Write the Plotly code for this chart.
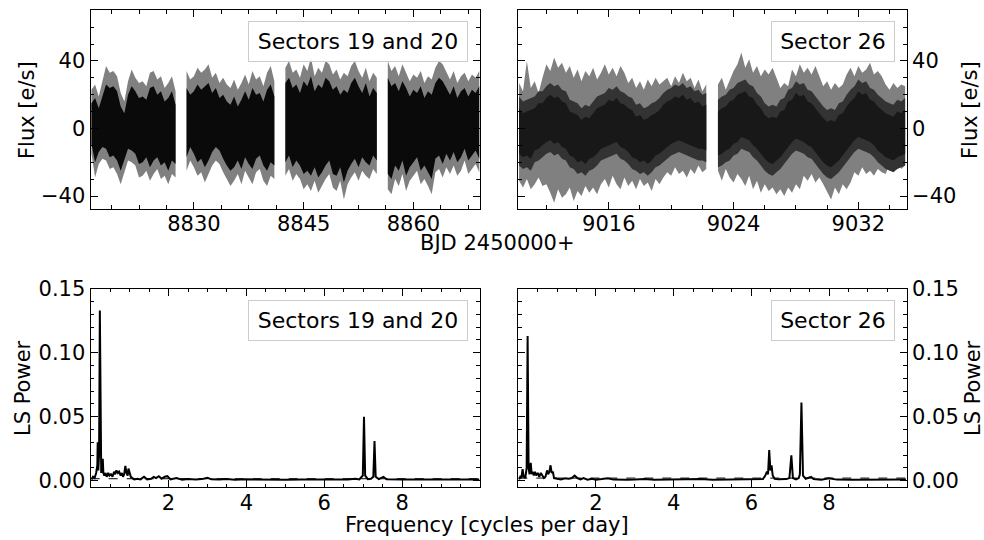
import plotly.graph_objects as go
import numpy as np

# ---------------- Light curve: Sectors 19 and 20 (envelopes sampled every 0.5 d) ----------------
s1920_step = 0.5
s1920_starts = [8816.0, 8829.0, 8842.5, 8856.5]

grey_hi_a = [23, 26, 19, 28, 37, 33, 34, 31, 21, 16, 28, 35, 30, 27, 28, 25, 33, 34, 29, 31, 24, 27, 31, 22]
grey_lo_a = [-15, -29, -21, -18, -19, -24, -23, -27, -33, -26, -19, -20, -22, -29, -28, -25, -31, -27, -24, -30, -28, -33, -27, -29]
core_hi_a = [15, 18, 12, 19, 26, 24, 25, 22, 13, 9, 20, 25, 22, 18, 19, 17, 24, 25, 20, 22, 16, 18, 22, 14]
core_lo_a = [-9, -20, -14, -11, -12, -17, -16, -19, -25, -18, -12, -13, -15, -21, -20, -17, -23, -19, -17, -22, -20, -25, -19, -21]

grey_hi_b = [34, 29, 31, 36, 33, 35, 38, 30, 33, 27, 30, 26, 24, 29, 23, 27, 32, 26, 34, 29, 31, 25, 33, 37, 28]
grey_lo_b = [-25, -19, -23, -28, -26, -32, -27, -22, -19, -21, -26, -30, -34, -31, -27, -33, -25, -29, -33, -26, -24, -31, -34, -28, -30]
core_hi_b = [24, 20, 22, 26, 23, 25, 27, 21, 24, 18, 20, 16, 14, 19, 13, 17, 22, 17, 24, 20, 21, 16, 23, 26, 19]
core_lo_b = [-17, -11, -15, -20, -18, -23, -19, -14, -11, -13, -18, -22, -25, -23, -19, -24, -17, -21, -24, -18, -16, -22, -25, -20, -22]

grey_hi_c = [36, 40, 33, 35, 30, 38, 34, 42, 31, 36, 33, 40, 38, 32, 35, 29, 33, 31, 37, 40, 34, 30, 36, 28, 33, 30]
grey_lo_c = [-28, -24, -31, -27, -30, -36, -33, -37, -31, -38, -34, -30, -27, -35, -37, -31, -42, -33, -29, -26, -31, -25, -28, -30, -24, -27]
core_hi_c = [27, 30, 24, 26, 21, 28, 25, 31, 22, 26, 24, 30, 28, 23, 25, 20, 23, 21, 27, 30, 25, 21, 27, 19, 24, 21]
core_lo_c = [-20, -16, -23, -19, -22, -27, -25, -28, -23, -29, -26, -22, -19, -27, -28, -23, -32, -25, -21, -18, -23, -17, -20, -22, -16, -19]

grey_hi_d = [40, 34, 37, 31, 38, 33, 28, 32, 30, 34, 27, 31, 29, 36, 40, 38, 33, 29, 34, 27, 31, 33, 28, 32, 30, 34]
grey_lo_d = [-36, -39, -30, -34, -27, -37, -31, -28, -25, -33, -30, -34, -39, -26, -24, -29, -23, -27, -22, -28, -25, -19, -27, -24, -21, -26]
core_hi_d = [30, 25, 27, 22, 28, 24, 19, 23, 21, 25, 18, 22, 20, 27, 30, 28, 24, 20, 25, 18, 22, 24, 19, 23, 21, 25]
core_lo_d = [-27, -30, -22, -25, -19, -28, -23, -20, -17, -25, -22, -26, -30, -18, -16, -21, -15, -19, -14, -20, -17, -12, -19, -16, -13, -18]

# ---------------- Light curve: Sector 26 (envelopes sampled every 0.25 d) ----------------
s26_step = 0.25
s26_starts = [9010.25, 9023.0]

grey_hi_e = [27, 22, 40, 24, 28, 21, 30, 38, 34, 42, 36, 39, 33, 37, 30, 35, 28, 34, 31, 36, 29, 33,
             38, 32, 36, 31, 37, 33, 27, 30, 24, 28, 23, 29, 25, 30, 26, 28, 30, 25, 31, 27, 33, 28, 30, 24, 29, 22, 26]
grey_lo_e = [-31, -35, -30, -36, -33, -29, -34, -33, -38, -44, -36, -41, -39, -35, -43, -37, -40, -34, -38, -35, -39, -33,
             -30, -35, -28, -33, -36, -29, -34, -31, -36, -30, -34, -32, -37, -30, -33, -29, -26, -28, -23, -27, -25, -29, -24, -27, -22, -26, -24]
core_hi_e = [12, 9, 10, 11, 12, 15, 15, 18, 20, 18, 19, 16, 15, 10, 9, 8, 5, 7, 6, 9, 12, 13, 14, 17, 16, 18, 15, 14,
             12, 11, 7, 8, 5, 6, 8, 9, 11, 14, 16, 17, 19, 18, 20, 17, 18, 15, 16, 13, 14]
core_lo_e = [-15, -17, -16, -18, -13, -12, -10, -8, -7, -9, -8, -11, -12, -16, -17, -20, -19, -21, -18, -17, -15, -12,
             -11, -10, -9, -8, -11, -12, -14, -17, -18, -20, -19, -21, -19, -16, -15, -13, -11, -9, -8, -7, -8, -9, -10, -11, -12, -12, -13]

grey_hi_f = [26, 30, 23, 29, 34, 38, 45, 36, 41, 33, 37, 31, 35, 32, 36, 30, 24, 27, 25, 35, 31, 38, 33, 36, 32, 37, 31,
             25, 28, 23, 27, 24, 26, 32, 36, 31, 37, 33, 35, 39, 32, 34, 31, 26, 23, 27, 24, 26, 25]
grey_lo_f = [-25, -31, -24, -29, -32, -27, -30, -34, -28, -36, -31, -38, -33, -37, -35, -39, -36, -40, -35, -38, -33, -36,
             -28, -31, -27, -32, -29, -33, -37, -42, -35, -39, -33, -36, -32, -26, -28, -23, -27, -25, -28, -24, -26, -27, -21, -25, -19, -24, -22]
core_hi_f = [10, 12, 13, 16, 17, 20, 21, 22, 19, 18, 14, 12, 8, 6, 7, 6, 10, 11, 16, 17, 21, 19, 20, 16, 15, 12, 9, 6, 4, 5,
             4, 8, 9, 13, 16, 18, 22, 20, 21, 17, 16, 13, 11, 9, 8, 7, 10, 9, 11]
core_lo_f = [-16, -15, -13, -12, -9, -8, -5, -6, -7, -10, -12, -15, -18, -20, -21, -19, -17, -14, -11, -8, -6, -7, -8, -10,
             -11, -14, -17, -20, -22, -23, -21, -19, -16, -13, -10, -7, -5, -6, -7, -8, -10, -13, -15, -17, -18, -19, -17, -16, -15]

# ---------------- Lomb-Scargle periodograms ----------------
freq_s1920 = [0.02, 0.06, 0.10, 0.14, 0.17, 0.18, 0.195, 0.215, 0.235, 0.255, 0.27, 0.29, 0.31, 0.325, 0.35, 0.38, 0.41,
              0.45, 0.48, 0.52, 0.56, 0.60, 0.63, 0.66, 0.70, 0.73, 0.77, 0.80, 0.83, 0.86, 0.89, 0.92, 0.95, 0.97, 1.00,
              1.03, 1.07, 1.12, 1.20, 1.28, 1.37, 1.45, 1.55, 1.62, 1.68, 1.75, 1.82, 1.90, 1.97, 2.05, 2.20, 2.35, 2.50,
              2.70, 2.85, 3.00, 3.10, 3.30, 3.50, 3.70, 4.00, 4.30, 4.60, 5.00, 5.40, 5.80, 6.20, 6.60, 6.80, 6.90, 6.99,
              7.02, 7.05, 7.12, 7.20, 7.26, 7.29, 7.32, 7.40, 7.52, 7.60, 8.00, 8.50, 9.00, 9.50, 9.98]
power_s1920 = [0.001, 0.003, 0.002, 0.006, 0.012, 0.030, 0.008, 0.020, 0.133, 0.020, 0.006, 0.010, 0.017, 0.006, 0.004,
               0.006, 0.003, 0.006, 0.004, 0.005, 0.003, 0.007, 0.005, 0.008, 0.006, 0.007, 0.004, 0.006, 0.003, 0.005,
               0.0115, 0.006, 0.004, 0.0095, 0.007, 0.003, 0.002, 0.001, 0.0015, 0.001, 0.003, 0.001, 0.0015, 0.003,
               0.002, 0.0035, 0.0015, 0.003, 0.0035, 0.001, 0.002, 0.0008, 0.0012, 0.0008, 0.0012, 0.0022, 0.001, 0.0008,
               0.0012, 0.0007, 0.001, 0.0008, 0.0009, 0.0007, 0.0009, 0.0007, 0.0008, 0.0009, 0.0015, 0.001, 0.004,
               0.050, 0.004, 0.0012, 0.0015, 0.003, 0.031, 0.003, 0.0012, 0.003, 0.001, 0.0008, 0.0007, 0.0008, 0.0007, 0.0008]

freq_s26 = [0.02, 0.05, 0.08, 0.11, 0.14, 0.18, 0.215, 0.24, 0.265, 0.29, 0.32, 0.345, 0.37, 0.40, 0.43, 0.46, 0.50, 0.54,
            0.58, 0.62, 0.66, 0.70, 0.74, 0.77, 0.80, 0.83, 0.86, 0.89, 0.92, 1.00, 1.10, 1.20, 1.30, 1.38, 1.45, 1.52,
            1.60, 1.68, 1.78, 1.90, 2.00, 2.15, 2.30, 2.45, 2.60, 2.80, 3.00, 3.25, 3.50, 3.80, 4.10, 4.40, 4.70, 5.00,
            5.40, 5.80, 6.10, 6.30, 6.36, 6.40, 6.43, 6.46, 6.49, 6.52, 6.55, 6.60, 6.70, 6.90, 6.98, 7.03, 7.07, 7.15,
            7.22, 7.25, 7.29, 7.33, 7.40, 7.50, 7.54, 7.60, 7.80, 8.00, 8.20, 8.60, 9.00, 9.50, 9.98]
power_s26 = [0.001, 0.003, 0.002, 0.009, 0.003, 0.002, 0.010, 0.113, 0.010, 0.005, 0.014, 0.005, 0.007, 0.004, 0.007,
             0.004, 0.006, 0.003, 0.006, 0.004, 0.002, 0.003, 0.008, 0.005, 0.007, 0.012, 0.006, 0.007, 0.002, 0.0015,
             0.001, 0.0018, 0.0015, 0.002, 0.004, 0.002, 0.001, 0.002, 0.0008, 0.0015, 0.0008, 0.0012, 0.0018, 0.0008,
             0.001, 0.0007, 0.0008, 0.0012, 0.0007, 0.0009, 0.0007, 0.0008, 0.0012, 0.0007, 0.0008, 0.0007, 0.0008,
             0.0012, 0.004, 0.007, 0.005, 0.024, 0.008, 0.012, 0.004, 0.0015, 0.001, 0.0012, 0.002, 0.0198, 0.002,
             0.001, 0.002, 0.005, 0.061, 0.004, 0.0015, 0.0025, 0.003, 0.0012, 0.0008, 0.0018, 0.0008, 0.0007, 0.0008,
             0.0007, 0.0008]

fap_s1920 = 0.0015
fap_s26 = 0.0020

panel_labels = ["Sectors 19 and 20", "Sector 26"]

# ---------------- Figure ----------------
W, H = 984, 540
GREY = "#808080"
fig = go.Figure()


def add_band(t, hi, lo, color, xa, ya):
    fig.add_trace(go.Scatter(
        x=list(t) + list(t[::-1]), y=list(hi) + list(lo[::-1]),
        fill="toself", fillcolor=color, line=dict(width=0), mode="lines",
        hoverinfo="skip", showlegend=False, xaxis=xa, yaxis=ya))


segs1920 = [(grey_hi_a, grey_lo_a, core_hi_a, core_lo_a),
            (grey_hi_b, grey_lo_b, core_hi_b, core_lo_b),
            (grey_hi_c, grey_lo_c, core_hi_c, core_lo_c),
            (grey_hi_d, grey_lo_d, core_hi_d, core_lo_d)]
for start, (gh, gl, ch, cl) in zip(s1920_starts, segs1920):
    t = start + s1920_step * np.arange(len(gh))
    add_band(t, gh, gl, GREY, "x", "y")
    add_band(t, ch, cl, "#0a0a0a", "x", "y")

# sector 26: sparser dots -> a dark-grey halo around a black core
HALO = 7
segs26 = [(grey_hi_e, grey_lo_e, core_hi_e, core_lo_e),
          (grey_hi_f, grey_lo_f, core_hi_f, core_lo_f)]
for start, (gh, gl, ch, cl) in zip(s26_starts, segs26):
    t = start + s26_step * np.arange(len(gh))
    add_band(t, gh, gl, GREY, "x2", "y2")
    add_band(t, np.array(ch) + HALO, np.array(cl) - HALO, "#333333", "x2", "y2")
    add_band(t, ch, cl, "#181818", "x2", "y2")

fig.add_trace(go.Scatter(x=[0, 10], y=[fap_s1920, fap_s1920], mode="lines",
                         line=dict(color="black", width=1, dash="dash"),
                         showlegend=False, xaxis="x3", yaxis="y3"))
fig.add_trace(go.Scatter(x=freq_s1920, y=power_s1920, mode="lines",
                         line=dict(color="black", width=2), showlegend=False, xaxis="x3", yaxis="y3"))
fig.add_trace(go.Scatter(x=[0, 10], y=[fap_s26, fap_s26], mode="lines",
                         line=dict(color="black", width=1, dash="dash"),
                         showlegend=False, xaxis="x4", yaxis="y4"))
fig.add_trace(go.Scatter(x=freq_s26, y=power_s26, mode="lines",
                         line=dict(color="black", width=2), showlegend=False, xaxis="x4", yaxis="y4"))

FONT = dict(family="DejaVu Sans", size=21, color="black")

xl = [90.7 / W, 480.0 / W]
xr = [518.3 / W, 906.7 / W]
yt = [1 - 209.0 / H, 1 - 10.0 / H]
yb = [1 - 487.3 / H, 1 - 288.5 / H]


def ax(domain, rng, anchor, **kw):
    d = dict(domain=domain, range=rng, anchor=anchor, showgrid=False, zeroline=False,
             showline=True, linecolor="black", linewidth=1.3, mirror="allticks",
             ticks="inside", ticklen=7, tickwidth=1.1, tickcolor="black",
             tickfont=FONT, automargin=False)
    d.update(kw)
    return d


def mn(dt, t0):
    return dict(ticks="inside", ticklen=3.5, tickwidth=1, tickcolor="black", dtick=dt, tick0=t0, showgrid=False)


fig.update_layout(
    width=W, height=H, autosize=False, margin=dict(l=0, r=0, t=0, b=0, pad=0),
    paper_bgcolor="white", plot_bgcolor="white", font=FONT,
    xaxis=ax(xl, [8815.9, 8869.1], "y", tickvals=[8830, 8845, 8860], minor=mn(3.75, 8830), ticklabelstandoff=-4),
    yaxis=ax(yt, [-47.7, 70.2], "x", tickvals=[-40, 0, 40], minor=mn(10, 0)),
    xaxis2=ax(xr, [9010.2, 9035.1], "y2", tickvals=[9016, 9024, 9032], minor=mn(2, 9016), ticklabelstandoff=-4),
    yaxis2=ax(yt, [-47.7, 70.2], "x2", side="right", tickvals=[-40, 0, 40], minor=mn(10, 0)),
    xaxis3=ax(xl, [0, 10], "y3", tickvals=[2, 4, 6, 8], minor=mn(0.5, 0), ticklabelstandoff=-4),
    yaxis3=ax(yb, [-0.0052, 0.1502], "x3", tickvals=[0, 0.05, 0.10, 0.15], tickformat=".2f", minor=mn(0.01, 0)),
    xaxis4=ax(xr, [0, 10], "y4", tickvals=[2, 4, 6, 8], minor=mn(0.5, 0), ticklabelstandoff=-4),
    yaxis4=ax(yb, [-0.0052, 0.1502], "x4", side="right", tickvals=[0, 0.05, 0.10, 0.15], tickformat=".2f",
              minor=mn(0.01, 0)),
)

ann = []


def label_box(text, xref, yref, width):
    ann.append(dict(text=text, xref=xref, yref=yref, x=1, y=1, xanchor="right", yanchor="top",
                    xshift=-12, yshift=-11, showarrow=False, width=width, height=29,
                    font=dict(family="DejaVu Sans", size=22, color="black"),
                    bgcolor="rgba(255,255,255,0.85)", bordercolor="#cccccc", borderwidth=1, borderpad=5))


label_box(panel_labels[0], "x domain", "y domain", 208)
label_box(panel_labels[1], "x2 domain", "y2 domain", 112)
label_box(panel_labels[0], "x3 domain", "y3 domain", 208)
label_box(panel_labels[1], "x4 domain", "y4 domain", 112)


def title(text, px, py, angle=0):
    ann.append(dict(text=text, xref="paper", yref="paper", x=px / W, y=1 - py / H,
                    xanchor="center", yanchor="middle", showarrow=False, textangle=angle,
                    font=FONT))


title("Flux [e/s]", 27, 110, -90)
title("Flux [e/s]", 970, 110, -90)
title("LS Power", 23, 388, -90)
title("LS Power", 973, 388, -90)
title("BJD 2450000+", 497, 243)
title("Frequency [cycles per day]", 487, 525)

fig.update_layout(annotations=ann)
fig.write_html("out.html", config={"responsive": False, "displayModeBar": False},
               post_script="document.body.style.margin='0';document.body.style.overflow='hidden';")
